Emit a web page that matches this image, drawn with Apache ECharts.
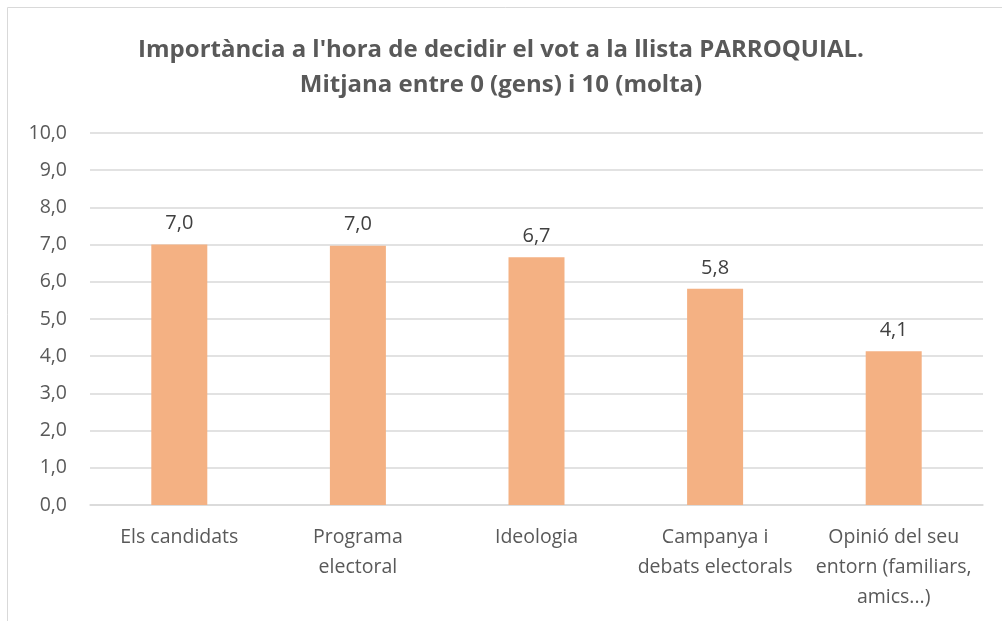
<!DOCTYPE html>
<html>
<head>
<meta charset="utf-8">
<script src="https://cdn.jsdelivr.net/npm/echarts@6/dist/echarts.min.js"></script>
<style>
  html, body { margin: 0; padding: 0; background: #fff; }
  #container { width: 1002px; height: 621px; }
</style>
</head>
<body>
<div id="container"></div>
<script>
// chart data
var categories = ['Els candidats', 'Programa\nelectoral', 'Ideologia', 'Campanya i\ndebats electorals', 'Opinió del seu\nentorn (familiars,\namics...)'];
var values = [7.0, 6.97, 6.66, 5.81, 4.13];
var titleLines = ["Importància a l'hora de decidir el vot a la llista PARROQUIAL.", 'Mitjana entre 0 (gens) i 10 (molta)'];

function comma(v) {
    return Number(v).toFixed(1).replace('.', ',');
}

var dom = document.getElementById('container');
var myChart = echarts.init(dom, null, { renderer: 'canvas' });

var option = {
    animation: false,
    title: {
        text: titleLines.join('\n'),
        left: 'center',
        top: 28,
        textStyle: {
            fontFamily: 'Open Sans',
            fontWeight: 'bold',
            fontSize: 24,
            lineHeight: 35,
            color: '#595959'
        }
    },
    graphic: [{
        type: 'rect',
        shape: { x: 7.5, y: 7.5, width: 1020, height: 700 },
        style: { fill: 'none', stroke: '#d9d9d9', lineWidth: 1 }
    }],
    grid: {
        left: 90,
        right: 19,
        top: 133,
        bottom: 116
    },
    xAxis: {
        type: 'category',
        data: categories,
        axisLine: { lineStyle: { color: '#d9d9d9', width: 1.5 } },
        axisTick: { show: false },
        axisLabel: {
            fontFamily: 'Open Sans',
            fontSize: 19.5,
            lineHeight: 30,
            color: '#595959',
            margin: 17,
            interval: 0
        }
    },
    yAxis: {
        type: 'value',
        min: 0,
        max: 10,
        interval: 1,
        axisLine: { show: false },
        axisTick: { show: false },
        splitLine: { lineStyle: { color: '#d9d9d9', width: 1.5 } },
        axisLabel: {
            fontFamily: 'Open Sans',
            fontSize: 19.5,
            color: '#595959',
            margin: 23,
            formatter: comma
        }
    },
    series: [{
        type: 'bar',
        data: values,
        barWidth: 56,
        itemStyle: { color: '#F4B183' },
        label: {
            show: true,
            position: 'top',
            distance: 11,
            fontFamily: 'Open Sans',
            fontSize: 20,
            color: '#404040',
            formatter: function (p) { return comma(p.value); }
        }
    }]
};

myChart.setOption(option);
window.addEventListener('resize', myChart.resize);
</script>
</body>
</html>
